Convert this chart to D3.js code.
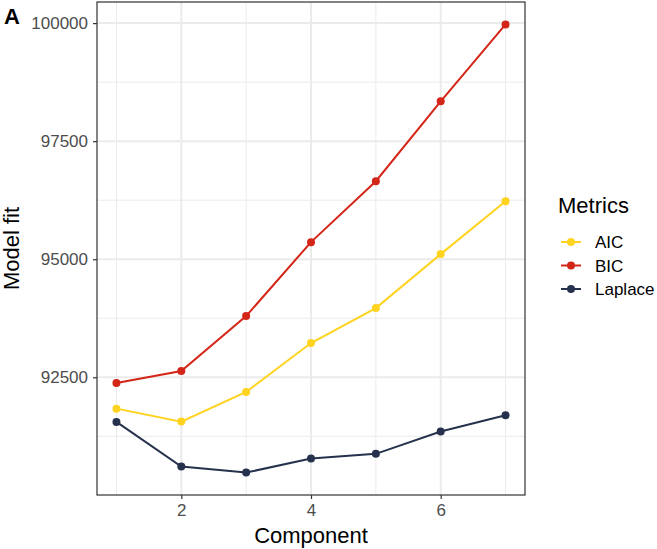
<!DOCTYPE html>
<html>
<head>
<meta charset="utf-8">
<script src="https://cdn.jsdelivr.net/npm/d3@7"></script>
<style>
  body { margin: 0; background: #fff; }
  text { font-family: "Liberation Sans", Arial, sans-serif; }
</style>
</head>
<body>
<svg id="chart" width="657" height="549"></svg>
<script>
// data
var components = [1, 2, 3, 4, 5, 6, 7];
var aic = [91836, 91561, 92189, 93225, 93966, 95108, 96229];
var bic = [92380, 92633, 93796, 95362, 96652, 98344, 99972];
var laplace = [91555, 90609, 90482, 90778, 90878, 91350, 91696];
var yTicks = [92500, 95000, 97500, 100000];
var yMinor = [91250, 93750, 96250, 98750];
var xTicks = [2, 4, 6];
var xMinor = [1, 3, 5, 7];

var series = [
  {name: "AIC", values: aic, color: "#FFD320"},
  {name: "BIC", values: bic, color: "#D42618"},
  {name: "Laplace", values: laplace, color: "#26324D"}
];

var svg = d3.select("#chart");
var margin = {left: 97, top: 2, right: 525, bottom: 495};

var x = d3.scaleLinear().domain([0.7, 7.3]).range([margin.left, margin.right]);
var y = d3.scaleLinear().domain([90007, 100447]).range([margin.bottom, margin.top]);

// grid
var grid = svg.append("g");
grid.selectAll(".ymin").data(yMinor).enter().append("line")
  .attr("x1", margin.left).attr("x2", margin.right)
  .attr("y1", d => y(d)).attr("y2", d => y(d))
  .attr("stroke", "#EBEBEB").attr("stroke-width", 1);
grid.selectAll(".xmin").data(xMinor).enter().append("line")
  .attr("y1", margin.top).attr("y2", margin.bottom)
  .attr("x1", d => x(d)).attr("x2", d => x(d))
  .attr("stroke", "#EBEBEB").attr("stroke-width", 1);
grid.selectAll(".ymaj").data(yTicks).enter().append("line")
  .attr("x1", margin.left).attr("x2", margin.right)
  .attr("y1", d => y(d)).attr("y2", d => y(d))
  .attr("stroke", "#EBEBEB").attr("stroke-width", 2);
grid.selectAll(".xmaj").data(xTicks).enter().append("line")
  .attr("y1", margin.top).attr("y2", margin.bottom)
  .attr("x1", d => x(d)).attr("x2", d => x(d))
  .attr("stroke", "#EBEBEB").attr("stroke-width", 2);

// lines and points
var line = d3.line().x((d, i) => x(components[i])).y(d => y(d));
series.forEach(function(s) {
  svg.append("path").datum(s.values)
    .attr("d", line).attr("fill", "none")
    .attr("stroke", s.color).attr("stroke-width", 2);
  svg.selectAll(null).data(s.values).enter().append("circle")
    .attr("cx", (d, i) => x(components[i])).attr("cy", d => y(d))
    .attr("r", 4).attr("fill", s.color);
});

// panel border
svg.append("rect")
  .attr("x", margin.left).attr("y", margin.top)
  .attr("width", margin.right - margin.left).attr("height", margin.bottom - margin.top)
  .attr("fill", "none").attr("stroke", "#333333").attr("stroke-width", 1.2);

// axes
var yAxis = svg.append("g").attr("transform", "translate(" + margin.left + ",0)")
  .call(d3.axisLeft(y).tickValues(yTicks).tickSize(4).tickPadding(5).tickFormat(d3.format("d")));
var xAxis = svg.append("g").attr("transform", "translate(0," + margin.bottom + ")")
  .call(d3.axisBottom(x).tickValues(xTicks).tickSize(4).tickPadding(5).tickFormat(d3.format("d")));
[yAxis, xAxis].forEach(function(a) {
  a.attr("font-size", null).attr("font-family", null);
  a.select(".domain").remove();
  a.selectAll(".tick line").attr("stroke", "#333333").attr("stroke-width", 1.2);
  a.selectAll(".tick text").attr("fill", "#4D4D4D").style("font-size", "17px");
});

// titles
svg.append("text").attr("x", (margin.left + margin.right) / 2).attr("y", 543)
  .attr("text-anchor", "middle").style("font-size", "22px").text("Component");
svg.append("text").attr("transform", "translate(19," + ((margin.top + margin.bottom) / 2) + ") rotate(-90)")
  .attr("text-anchor", "middle").style("font-size", "22px").text("Model fit");
svg.append("text").attr("x", 4).attr("y", 24)
  .style("font-size", "22px").style("font-weight", "bold").text("A");

// legend
var legend = svg.append("g");
legend.append("text").attr("x", 558).attr("y", 213).style("font-size", "22px").text("Metrics");
series.forEach(function(s, i) {
  var cy = 242 + i * 23.5;
  legend.append("line").attr("x1", 561).attr("x2", 581).attr("y1", cy).attr("y2", cy)
    .attr("stroke", s.color).attr("stroke-width", 2);
  legend.append("circle").attr("cx", 571).attr("cy", cy).attr("r", 4).attr("fill", s.color);
  legend.append("text").attr("x", 595).attr("y", cy + 6).style("font-size", "17px").text(s.name);
});
</script>
</body>
</html>
